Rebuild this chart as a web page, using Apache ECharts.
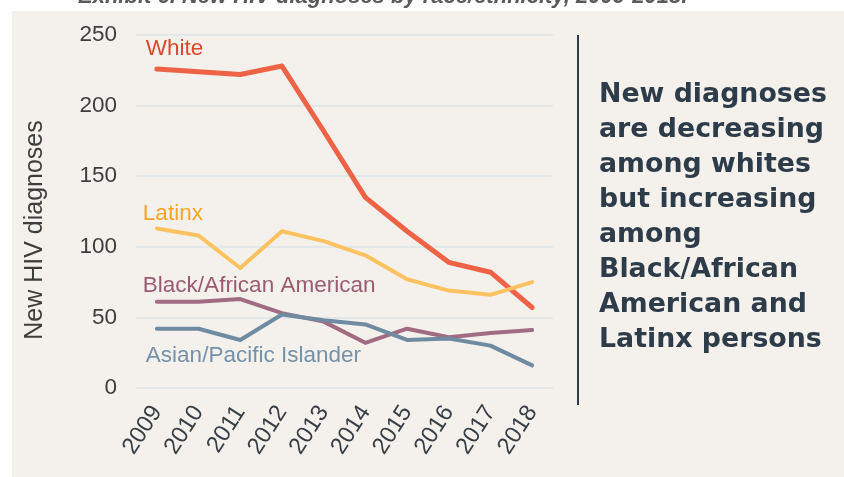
<!DOCTYPE html>
<html>
<head>
<meta charset="utf-8">
<script src="https://cdn.jsdelivr.net/npm/echarts@6/dist/echarts.min.js"></script>
<style>
  html, body { margin: 0; padding: 0; background: #fff; }
  #main { width: 844px; height: 477px; }
</style>
</head>
<body>
<div id="main"></div>
<script>
const years = ['2009', '2010', '2011', '2012', '2013', '2014', '2015', '2016', '2017', '2018']
const yTicks = [0, 50, 100, 150, 200, 250]
const white = [226, 224, 222, 228, 182, 135, 111, 89, 82, 57]
const latinx = [113, 108, 85, 111, 104, 94, 77, 69, 66, 75]
const black = [61, 61, 63, 53, 47, 32, 42, 36, 39, 41]
const asian = [42, 42, 34, 52, 48, 45, 34, 35, 30, 16]
const seriesNames = ['White', 'Latinx', 'Black/African American', 'Asian/Pacific Islander']
const noteLines = [
  'New diagnoses',
  'are decreasing',
  'among whites',
  'but increasing',
  'among',
  'Black/African',
  'American and',
  'Latinx persons'
]

// styling per series (kept apart from the data)
const styles = [
  { line: '#ee6246', text: '#d9492d', width: 5, pos: [-11, -20] },
  { line: '#fdc260', text: '#f6a423', width: 4, pos: [-14, -15] },
  { line: '#a16b82', text: '#9a5a72', width: 4, pos: [-14, -16] },
  { line: '#6f8ba1', text: '#7592a8', width: 4, pos: [-11, 27] }
]

const makeSeries = (name, values, st) => ({
  name: name,
  type: 'line',
  showSymbol: true,
  symbolSize: 0,
  color: st.line,
  lineStyle: { width: st.width, color: st.line, cap: 'round', join: 'round' },
  emphasis: { disabled: true },
  data: values.map((v, i) => i === 0 ? {
    value: v,
    label: {
      show: true,
      formatter: name,
      position: st.pos,
      align: 'left',
      verticalAlign: 'middle',
      color: st.text,
      fontSize: 22.5,
      fontFamily: 'Liberation Sans, Arial, sans-serif'
    }
  } : v)
})

const myChart = echarts.init(document.getElementById('main'))
const option = {
  animation: false,
  backgroundColor: '#ffffff',
  grid: { left: 136, right: 291, top: 35, bottom: 89 },
  xAxis: {
    type: 'category',
    data: years,
    boundaryGap: true,
    axisLine: { show: false },
    axisTick: { show: false },
    axisLabel: {
      rotate: 57,
      margin: 20,
      color: '#363d45',
      fontSize: 23.5,
      fontFamily: 'Liberation Sans, Arial, sans-serif'
    }
  },
  yAxis: {
    type: 'value',
    min: yTicks[0],
    max: yTicks[yTicks.length - 1],
    interval: 50,
    axisLine: { show: false },
    axisTick: { show: false },
    axisLabel: {
      margin: 19,
      color: '#3d3d3d',
      fontSize: 22.5,
      fontFamily: 'Liberation Sans, Arial, sans-serif'
    },
    splitLine: { lineStyle: { color: '#dde3ea', width: 1.5 } }
  },
  graphic: [
    {
      type: 'text',
      left: 78,
      top: -14,
      z: -20,
      style: {
        text: 'Exhibit 6. New HIV diagnoses by race/ethnicity, 2009-2018.',
        fill: '#5a5a5a',
        font: 'italic bold 22px Liberation Sans, Arial, sans-serif'
      }
    },
    {
      type: 'rect',
      z: -10,
      silent: true,
      shape: { x: 12, y: 11, width: 832, height: 466 },
      style: { fill: '#f4f1ec' }
    },
    {
      type: 'text',
      x: 35,
      y: 230,
      rotation: Math.PI / 2,
      style: {
        text: 'New HIV diagnoses',
        fill: '#3d3d3d',
        align: 'center',
        verticalAlign: 'middle',
        font: '25px Liberation Sans, Arial, sans-serif'
      }
    },
    {
      type: 'line',
      shape: { x1: 578, y1: 35, x2: 578, y2: 405 },
      style: { stroke: '#2e3c49', lineWidth: 2 }
    },
    {
      type: 'text',
      x: 599,
      y: 78,
      style: {
        text: noteLines.join('\n'),
        fill: '#2e3c49',
        lineHeight: 35,
        font: 'bold 26.8px DejaVu Sans, sans-serif'
      }
    }
  ],
  series: [
    makeSeries(seriesNames[0], white, styles[0]),
    makeSeries(seriesNames[1], latinx, styles[1]),
    makeSeries(seriesNames[2], black, styles[2]),
    makeSeries(seriesNames[3], asian, styles[3])
  ]
}
myChart.setOption(option)
</script>
</body>
</html>
